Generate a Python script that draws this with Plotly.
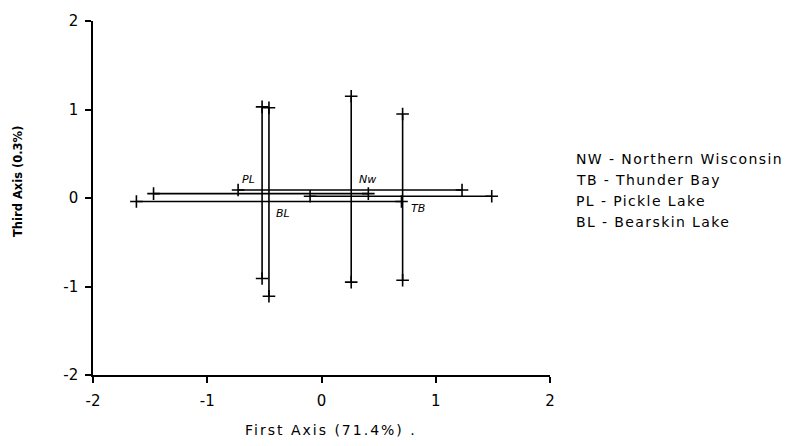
import plotly.graph_objects as go

# Site groups: centroid on the first and third axes with the extent of each
codes = ["NW", "TB", "PL", "BL"]
names = ["Northern Wisconsin", "Thunder Bay", "Pickle Lake", "Bearskin Lake"]
x_mean = [0.26, 0.71, -0.52, -0.46]
y_mean = [0.09, 0.02, 0.05, -0.04]
x_low = [-0.73, -0.10, -1.47, -1.62]
x_high = [1.23, 1.49, 0.41, 0.70]
y_low = [-0.95, -0.93, -0.91, -1.11]
y_high = [1.15, 0.95, 1.03, 1.02]
tick_vals = [-2, -1, 0, 1, 2]
tick_text = ["-2", "-1", "0", "1", "2"]

# pixel offsets of each site code from its centroid
label_offsets = {"NW": (16, 11), "TB": (15, -12), "PL": (-14, 14), "BL": (14, -12)}

FONT = "DejaVu Sans"
line_style = dict(color="black", width=1.6)
end_marker = dict(symbol="cross-thin", size=9, line=dict(color="black", width=1.6))


def spaced(text, px):
    return f'<span style="letter-spacing:{px}px">{text}</span>'


fig = go.Figure()
for i, code in enumerate(codes):
    # horizontal extent along the first axis
    fig.add_trace(go.Scatter(
        x=[x_low[i], x_high[i]], y=[y_mean[i], y_mean[i]],
        mode="lines+markers", line=line_style, marker=end_marker,
        showlegend=False, hoverinfo="skip"))
    # vertical extent along the third axis
    fig.add_trace(go.Scatter(
        x=[x_mean[i], x_mean[i]], y=[y_low[i], y_high[i]],
        mode="lines+markers", line=line_style, marker=end_marker,
        showlegend=False, hoverinfo="skip"))
    dx, dy = label_offsets[code]
    fig.add_annotation(
        x=x_mean[i], y=y_mean[i], xref="x", yref="y",
        text=f"<i>{'Nw' if code == 'NW' else code}</i>",
        showarrow=False, xshift=dx, yshift=dy,
        font=dict(family=FONT, size=11, color="black"))

# key of site codes on the right
for i, (code, name) in enumerate(zip(codes, names)):
    fig.add_annotation(
        x=1.053, y=0.609 - 0.059 * i, xref="paper", yref="paper",
        xanchor="left", yanchor="middle", showarrow=False,
        text=spaced(f"{code} - {name}", 1.4),
        font=dict(family=FONT, size=14, color="black"))

# axis titles
fig.add_annotation(
    x=0.5, y=0, xref="paper", yref="paper", xshift=9, yshift=-55,
    text=spaced("First Axis (71.4%) .", 2.0), showarrow=False,
    xanchor="center", yanchor="middle",
    font=dict(family=FONT, size=14, color="black"))
fig.add_annotation(
    x=0, y=0.5, xref="paper", yref="paper", xshift=-75, yshift=16,
    text="<b>Third Axis (0.3%)</b>", showarrow=False, textangle=-90,
    xanchor="center", yanchor="middle",
    font=dict(family=FONT, size=11.5, color="black"))

axis_common = dict(
    tickvals=tick_vals, ticktext=tick_text, showline=True, linecolor="black",
    linewidth=1.5, ticks="outside", ticklen=6, tickwidth=1.5, tickcolor="black",
    showgrid=False, zeroline=False, mirror=False,
    tickfont=dict(family=FONT, size=15, color="black"),
)

fig.update_xaxes(range=[-2, 2], ticklabelstandoff=5, **axis_common)
fig.update_yaxes(range=[-2, 2], ticklabelstandoff=4, **axis_common)

fig.update_layout(
    width=788, height=446,
    margin=dict(l=93, r=238, t=17, b=71),
    plot_bgcolor="white", paper_bgcolor="white",
    showlegend=False,
)

fig.write_html("out.html")
